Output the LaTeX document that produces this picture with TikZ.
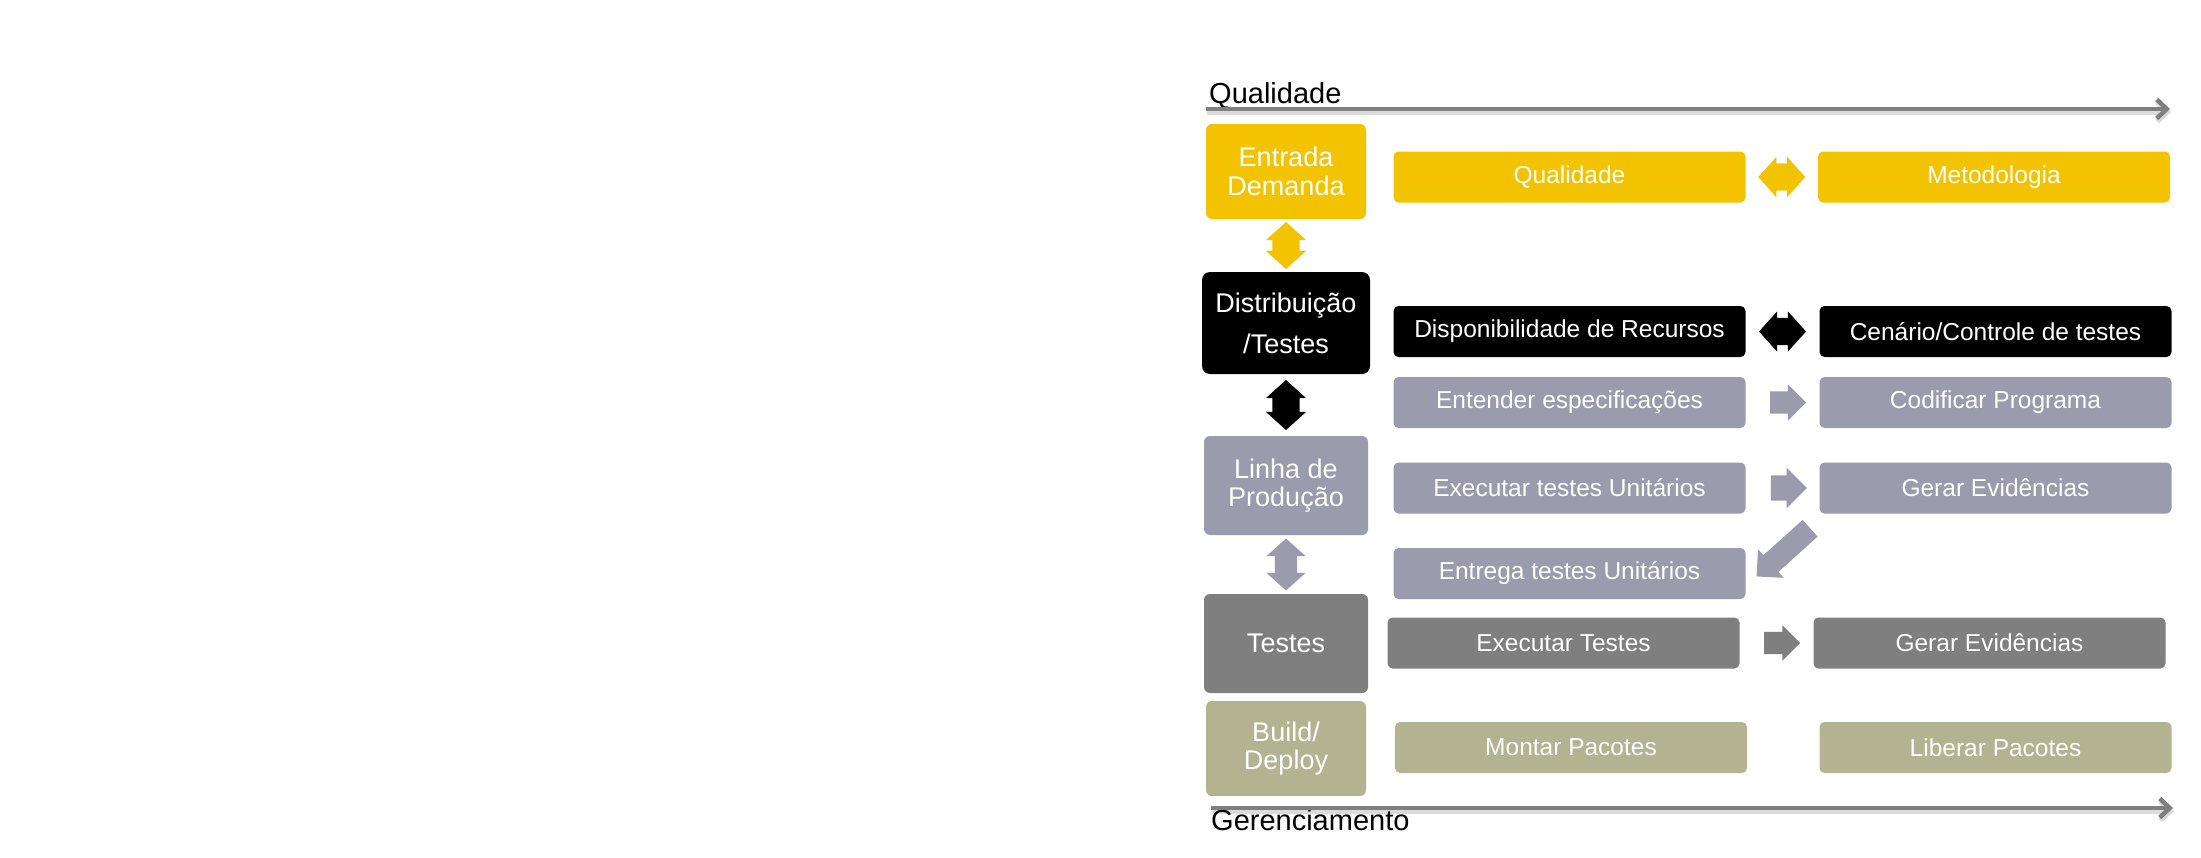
\documentclass[tikz,border=0pt]{standalone}
\usepackage{fontspec}
\setmainfont{Liberation Sans}
\usetikzlibrary{shapes.arrows,calc,arrows.meta}

\definecolor{amarelo}{RGB}{244,195,0}
\definecolor{lilas}{RGB}{154,155,173}
\definecolor{cinza}{RGB}{127,127,127}
\definecolor{oliva}{RGB}{179,179,146}

\tikzset{
  etapa/.style={rounded corners=6pt, minimum width=164pt, minimum height=99pt,
    inner sep=0pt, text=white, align=center, font=\fontsize{27pt}{28.5pt}\selectfont},
  tarefa/.style={rounded corners=5pt, minimum width=352pt, minimum height=51pt,
    inner sep=0pt, text=white, font=\fontsize{24.5pt}{29pt}\selectfont},
  seta/.style={single arrow, minimum width=0pt, minimum height=36pt, inner xsep=0pt,
    inner ysep=10pt, single arrow head extend=6.5pt, outer sep=0pt},
  duplaseta/.style={double arrow, minimum width=0pt, minimum height=47pt, inner xsep=0pt,
    inner ysep=13.5pt, double arrow head extend=6.5pt, double arrow tip angle=96, outer sep=0pt},
  rotulo/.style={inner sep=0pt, font=\fontsize{29pt}{34pt}\selectfont},
  linhatempo/.style={draw=cinza, line width=4.5pt, -{Straight Barb[length=10pt,width=19pt]}},
  sombra/.style={draw=black!14, line width=5pt, -{Straight Barb[length=10pt,width=19pt]},
    transform canvas={shift={(1pt,-3pt)}}}
}

\begin{document}
\begin{tikzpicture}[x=1pt, y=-1pt]
  \useasboundingbox (0,0) rectangle (2201,857);

  % linhas de tempo
  \coordinate (q0) at (1206,109);
  \coordinate (q1) at (2170,109);
  \coordinate (g0) at (1211,808);
  \coordinate (g1) at (2173,808);
  \draw[sombra] (q0) -- (q1);
  \draw[sombra] (g0) -- (g1);
  \node[rotulo, anchor=base west] (lq) at (1209,103) {Qualidade};
  \node[rotulo, anchor=base west] (lg) at (1211,830) {Gerenciamento};
  \draw[linhatempo] (q0) -- (q1);
  \draw[linhatempo] (g0) -- (g1);

  % etapas
  \node[etapa, fill=amarelo, minimum width=160pt, minimum height=95pt] (entrada) at (1286,171.5) {Entrada\\Demanda};
  \node[etapa, fill=black, minimum width=168pt, minimum height=102pt, rounded corners=8pt] (distrib) at (1286,323) {Distribuição\\[12.5pt]/Testes};
  \node[etapa, fill=lilas] (linha) at (1286,485.5) {Linha de\\Produção};
  \node[etapa, fill=cinza] (testes) at (1286,643.5) {Testes};
  \node[etapa, fill=oliva, minimum width=160pt, minimum height=95pt] (build) at (1286,748.5) {Build/\\Deploy};

  % tarefas
  \node[tarefa, fill=amarelo] (qual) at (1569.5,177) {Qualidade};
  \node[tarefa, fill=amarelo] (metod) at (1994,177) {Metodologia};
  \node[tarefa, fill=black] (dispon) at (1569.5,331.5) {Disponibilidade de Recursos};
  \node[tarefa, fill=black] (cenario) at (1995.5,331.5) {Cenário/Controle de testes};
  \node[tarefa, fill=lilas] (entender) at (1569.5,402.5) {Entender especificações};
  \node[tarefa, fill=lilas] (codif) at (1995.5,402.5) {Codificar Programa};
  \node[tarefa, fill=lilas] (execunit) at (1569.5,488) {Executar testes Unitários};
  \node[tarefa, fill=lilas] (gerar1) at (1995.5,488) {Gerar Evidências};
  \node[tarefa, fill=lilas] (entrega) at (1569.5,573.5) {Entrega testes Unitários};
  \node[tarefa, fill=cinza] (exectestes) at (1563.5,643) {Executar Testes};
  \node[tarefa, fill=cinza] (gerar2) at (1989.5,643) {Gerar Evidências};
  \node[tarefa, fill=oliva] (montar) at (1571,747.5) {Montar Pacotes};
  \node[tarefa, fill=oliva] (liberar) at (1995.5,747.5) {Liberar Pacotes};

  % setas
  \node[duplaseta, fill=amarelo] (qm) at ($(qual.east)!.5!(metod.west)$) {};
  \node[duplaseta, fill=amarelo, rotate=90] (ed) at ($(entrada.south)!.5!(distrib.north)$) {};
  \node[duplaseta, fill=black] (dc) at ($(dispon.east)!.5!(cenario.west)$) {};
  \node[duplaseta, fill=black, rotate=90, minimum height=50pt] (dl) at ($(distrib.south)!.5!(linha.north)$) {};
  \node[seta, fill=lilas, inner ysep=11pt, single arrow head extend=7pt] (ec) at ($(entender.east)!.5!(codif.west)$) {};
  \node[seta, fill=lilas, inner ysep=12.5pt, single arrow head extend=7.5pt] (eg) at ($(execunit.east)!.5!(gerar1.west)$) {};
  \node[seta, fill=lilas, rotate=222, minimum height=72pt, inner ysep=11pt, single arrow head extend=8pt] (ge) at ($(gerar1.south west)!.5!(entrega.east)+(5,5)$) {};
  \node[duplaseta, fill=lilas, rotate=90, minimum height=52pt, inner ysep=11pt, double arrow head extend=8.5pt] (lt) at ($(linha.south)!.5!(testes.north)$) {};
  \node[seta, fill=cinza, inner ysep=11pt, single arrow head extend=6.5pt] (tg) at ($(exectestes.east)!.5!(gerar2.west)$) {};
\end{tikzpicture}
\end{document}
